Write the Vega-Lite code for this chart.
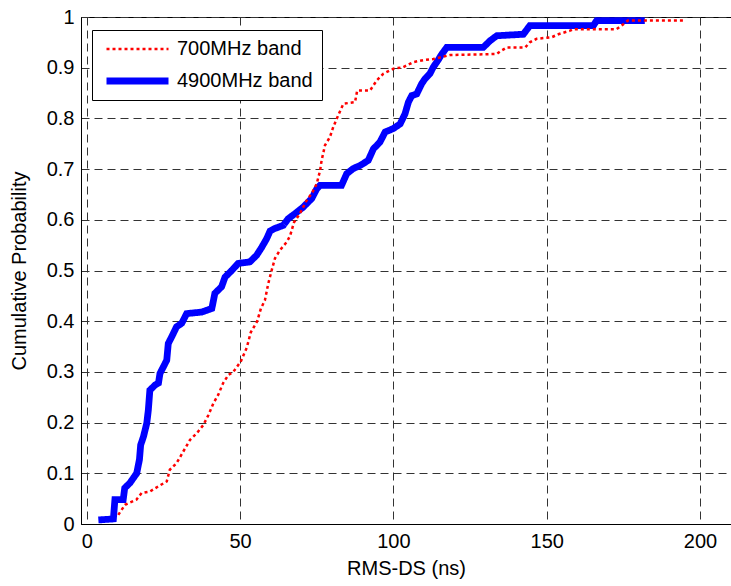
{
  "$schema": "https://vega.github.io/schema/vega-lite/v6.json",
  "width": 650,
  "height": 507,
  "autosize": "none",
  "padding": {"left": 81, "top": 17, "right": 0, "bottom": 62},
  "background": "white",
  "config": {
    "font": "Liberation Sans",
    "view": {"stroke": "black", "strokeWidth": 1},
    "axis": {
      "labelFont": "Liberation Sans",
      "titleFont": "Liberation Sans",
      "labelFontSize": 20,
      "titleFontSize": 20,
      "titleFontWeight": "normal",
      "labelColor": "black",
      "titleColor": "black",
      "domainColor": "black",
      "domainWidth": 1,
      "ticks": false,
      "grid": true,
      "gridColor": "#333333",
      "gridDash": [8, 5],
      "gridWidth": 1,
      "gridOpacity": 1
    },
    "legend": {
      "labelFont": "Liberation Sans",
      "labelFontSize": 20,
      "labelColor": "black"
    }
  },
  "data": {
    "values": [
      {"band": "4900MHz band", "x": 3.8, "y": 0.008},
      {"band": "4900MHz band", "x": 8.7, "y": 0.01},
      {"band": "4900MHz band", "x": 9.2, "y": 0.048},
      {"band": "4900MHz band", "x": 11.9, "y": 0.048},
      {"band": "4900MHz band", "x": 12.4, "y": 0.071},
      {"band": "4900MHz band", "x": 14.1, "y": 0.081},
      {"band": "4900MHz band", "x": 16.3, "y": 0.1},
      {"band": "4900MHz band", "x": 17.2, "y": 0.127},
      {"band": "4900MHz band", "x": 17.6, "y": 0.156},
      {"band": "4900MHz band", "x": 18.5, "y": 0.172},
      {"band": "4900MHz band", "x": 19.6, "y": 0.199},
      {"band": "4900MHz band", "x": 20.1, "y": 0.225},
      {"band": "4900MHz band", "x": 20.6, "y": 0.264},
      {"band": "4900MHz band", "x": 22.3, "y": 0.274},
      {"band": "4900MHz band", "x": 23.4, "y": 0.278},
      {"band": "4900MHz band", "x": 23.9, "y": 0.297},
      {"band": "4900MHz band", "x": 25.0, "y": 0.31},
      {"band": "4900MHz band", "x": 26.1, "y": 0.323},
      {"band": "4900MHz band", "x": 26.6, "y": 0.356},
      {"band": "4900MHz band", "x": 27.7, "y": 0.369},
      {"band": "4900MHz band", "x": 29.3, "y": 0.389},
      {"band": "4900MHz band", "x": 31.0, "y": 0.396},
      {"band": "4900MHz band", "x": 32.6, "y": 0.415},
      {"band": "4900MHz band", "x": 37.5, "y": 0.418},
      {"band": "4900MHz band", "x": 40.8, "y": 0.425},
      {"band": "4900MHz band", "x": 41.8, "y": 0.455},
      {"band": "4900MHz band", "x": 44.0, "y": 0.468},
      {"band": "4900MHz band", "x": 45.1, "y": 0.487},
      {"band": "4900MHz band", "x": 47.3, "y": 0.5},
      {"band": "4900MHz band", "x": 49.4, "y": 0.514},
      {"band": "4900MHz band", "x": 53.2, "y": 0.517},
      {"band": "4900MHz band", "x": 55.4, "y": 0.53},
      {"band": "4900MHz band", "x": 57.1, "y": 0.546},
      {"band": "4900MHz band", "x": 58.7, "y": 0.563},
      {"band": "4900MHz band", "x": 59.8, "y": 0.578},
      {"band": "4900MHz band", "x": 61.4, "y": 0.583},
      {"band": "4900MHz band", "x": 64.1, "y": 0.589},
      {"band": "4900MHz band", "x": 65.7, "y": 0.602},
      {"band": "4900MHz band", "x": 67.9, "y": 0.612},
      {"band": "4900MHz band", "x": 70.6, "y": 0.625},
      {"band": "4900MHz band", "x": 73.4, "y": 0.642},
      {"band": "4900MHz band", "x": 75.0, "y": 0.661},
      {"band": "4900MHz band", "x": 76.1, "y": 0.668},
      {"band": "4900MHz band", "x": 83.1, "y": 0.668},
      {"band": "4900MHz band", "x": 84.8, "y": 0.691},
      {"band": "4900MHz band", "x": 86.9, "y": 0.701},
      {"band": "4900MHz band", "x": 89.1, "y": 0.707},
      {"band": "4900MHz band", "x": 91.8, "y": 0.717},
      {"band": "4900MHz band", "x": 93.5, "y": 0.74},
      {"band": "4900MHz band", "x": 95.6, "y": 0.753},
      {"band": "4900MHz band", "x": 97.3, "y": 0.773},
      {"band": "4900MHz band", "x": 100.0, "y": 0.78},
      {"band": "4900MHz band", "x": 102.2, "y": 0.789},
      {"band": "4900MHz band", "x": 103.8, "y": 0.809},
      {"band": "4900MHz band", "x": 104.9, "y": 0.832},
      {"band": "4900MHz band", "x": 106.0, "y": 0.845},
      {"band": "4900MHz band", "x": 107.6, "y": 0.848},
      {"band": "4900MHz band", "x": 109.2, "y": 0.868},
      {"band": "4900MHz band", "x": 110.3, "y": 0.878},
      {"band": "4900MHz band", "x": 111.9, "y": 0.888},
      {"band": "4900MHz band", "x": 113.0, "y": 0.901},
      {"band": "4900MHz band", "x": 114.6, "y": 0.915},
      {"band": "4900MHz band", "x": 115.6, "y": 0.925},
      {"band": "4900MHz band", "x": 117.4, "y": 0.94},
      {"band": "4900MHz band", "x": 129.3, "y": 0.94},
      {"band": "4900MHz band", "x": 131.5, "y": 0.953},
      {"band": "4900MHz band", "x": 133.7, "y": 0.963},
      {"band": "4900MHz band", "x": 142.4, "y": 0.966},
      {"band": "4900MHz band", "x": 144.5, "y": 0.983},
      {"band": "4900MHz band", "x": 165.2, "y": 0.983},
      {"band": "4900MHz band", "x": 166.3, "y": 0.993},
      {"band": "4900MHz band", "x": 182.0, "y": 0.993},
      {"band": "700MHz band", "x": 10.3, "y": 0.018},
      {"band": "700MHz band", "x": 12.5, "y": 0.038},
      {"band": "700MHz band", "x": 16.2, "y": 0.048},
      {"band": "700MHz band", "x": 17.9, "y": 0.061},
      {"band": "700MHz band", "x": 20.6, "y": 0.064},
      {"band": "700MHz band", "x": 23.3, "y": 0.074},
      {"band": "700MHz band", "x": 26.1, "y": 0.084},
      {"band": "700MHz band", "x": 27.1, "y": 0.107},
      {"band": "700MHz band", "x": 29.3, "y": 0.12},
      {"band": "700MHz band", "x": 31.5, "y": 0.143},
      {"band": "700MHz band", "x": 33.7, "y": 0.166},
      {"band": "700MHz band", "x": 35.9, "y": 0.179},
      {"band": "700MHz band", "x": 38.0, "y": 0.195},
      {"band": "700MHz band", "x": 39.7, "y": 0.215},
      {"band": "700MHz band", "x": 41.3, "y": 0.238},
      {"band": "700MHz band", "x": 42.9, "y": 0.255},
      {"band": "700MHz band", "x": 44.5, "y": 0.278},
      {"band": "700MHz band", "x": 46.2, "y": 0.294},
      {"band": "700MHz band", "x": 47.8, "y": 0.3},
      {"band": "700MHz band", "x": 50.2, "y": 0.32},
      {"band": "700MHz band", "x": 52.2, "y": 0.348},
      {"band": "700MHz band", "x": 53.5, "y": 0.378},
      {"band": "700MHz band", "x": 55.6, "y": 0.4},
      {"band": "700MHz band", "x": 56.8, "y": 0.425},
      {"band": "700MHz band", "x": 58.1, "y": 0.441},
      {"band": "700MHz band", "x": 59.2, "y": 0.474},
      {"band": "700MHz band", "x": 60.3, "y": 0.5},
      {"band": "700MHz band", "x": 61.4, "y": 0.524},
      {"band": "700MHz band", "x": 63.0, "y": 0.54},
      {"band": "700MHz band", "x": 65.2, "y": 0.556},
      {"band": "700MHz band", "x": 66.3, "y": 0.568},
      {"band": "700MHz band", "x": 67.6, "y": 0.595},
      {"band": "700MHz band", "x": 69.5, "y": 0.612},
      {"band": "700MHz band", "x": 71.7, "y": 0.638},
      {"band": "700MHz band", "x": 73.4, "y": 0.652},
      {"band": "700MHz band", "x": 75.0, "y": 0.671},
      {"band": "700MHz band", "x": 76.1, "y": 0.697},
      {"band": "700MHz band", "x": 76.6, "y": 0.717},
      {"band": "700MHz band", "x": 77.7, "y": 0.747},
      {"band": "700MHz band", "x": 79.3, "y": 0.763},
      {"band": "700MHz band", "x": 80.4, "y": 0.783},
      {"band": "700MHz band", "x": 82.0, "y": 0.806},
      {"band": "700MHz band", "x": 83.7, "y": 0.829},
      {"band": "700MHz band", "x": 87.5, "y": 0.832},
      {"band": "700MHz band", "x": 88.2, "y": 0.855},
      {"band": "700MHz band", "x": 92.4, "y": 0.855},
      {"band": "700MHz band", "x": 94.6, "y": 0.875},
      {"band": "700MHz band", "x": 96.7, "y": 0.888},
      {"band": "700MHz band", "x": 100.0, "y": 0.898},
      {"band": "700MHz band", "x": 103.2, "y": 0.901},
      {"band": "700MHz band", "x": 106.5, "y": 0.911},
      {"band": "700MHz band", "x": 109.8, "y": 0.915},
      {"band": "700MHz band", "x": 113.0, "y": 0.917},
      {"band": "700MHz band", "x": 118.5, "y": 0.925},
      {"band": "700MHz band", "x": 133.7, "y": 0.927},
      {"band": "700MHz band", "x": 134.8, "y": 0.932},
      {"band": "700MHz band", "x": 137.0, "y": 0.94},
      {"band": "700MHz band", "x": 143.0, "y": 0.94},
      {"band": "700MHz band", "x": 144.5, "y": 0.95},
      {"band": "700MHz band", "x": 146.7, "y": 0.957},
      {"band": "700MHz band", "x": 151.6, "y": 0.96},
      {"band": "700MHz band", "x": 153.8, "y": 0.966},
      {"band": "700MHz band", "x": 157.6, "y": 0.973},
      {"band": "700MHz band", "x": 158.7, "y": 0.976},
      {"band": "700MHz band", "x": 172.8, "y": 0.976},
      {"band": "700MHz band", "x": 174.4, "y": 0.983},
      {"band": "700MHz band", "x": 176.5, "y": 0.993},
      {"band": "700MHz band", "x": 194.5, "y": 0.993}
    ]
  },
  "mark": {"type": "line", "interpolate": "linear", "clip": true},
  "encoding": {
    "x": {
      "field": "x",
      "type": "quantitative",
      "scale": {"domain": [-1.86, 210.1], "nice": false, "zero": false},
      "axis": {
        "title": "RMS-DS (ns)",
        "values": [0, 50, 100, 150, 200],
        "labelPadding": 7,
        "titlePadding": 7
      }
    },
    "y": {
      "field": "y",
      "type": "quantitative",
      "scale": {"domain": [0, 1], "nice": false},
      "axis": {
        "title": "Cumulative Probability",
        "values": [0, 0.1, 0.2, 0.3, 0.4, 0.5, 0.6, 0.7, 0.8, 0.9, 1],
        "format": "~g",
        "labelPadding": 7,
        "titlePadding": 17
      }
    },
    "color": {
      "field": "band",
      "type": "nominal",
      "scale": {"domain": ["700MHz band", "4900MHz band"], "range": ["#ff0000", "#0000ff"]},
      "legend": {
        "title": null,
        "orient": "none",
        "legendX": 11,
        "legendY": 13,
        "padding": 9,
        "strokeColor": "black",
        "fillColor": "white",
        "symbolType": "stroke",
        "symbolSize": 3844,
        "clipHeight": 20,
        "rowPadding": 12,
        "symbolOffset": 2,
        "labelOffset": 5
      }
    },
    "strokeDash": {
      "field": "band",
      "type": "nominal",
      "scale": {"domain": ["700MHz band", "4900MHz band"], "range": [[3, 3], [1, 0]]},
      "legend": {
        "title": null,
        "orient": "none",
        "legendX": 11,
        "legendY": 13,
        "padding": 9,
        "strokeColor": "black",
        "fillColor": "white",
        "symbolType": "stroke",
        "symbolSize": 3844,
        "clipHeight": 20,
        "rowPadding": 12,
        "symbolOffset": 2,
        "labelOffset": 5
      }
    },
    "strokeWidth": {
      "field": "band",
      "type": "nominal",
      "scale": {"domain": ["700MHz band", "4900MHz band"], "range": [2.5, 6.8]},
      "legend": {
        "title": null,
        "orient": "none",
        "legendX": 11,
        "legendY": 13,
        "padding": 9,
        "strokeColor": "black",
        "fillColor": "white",
        "symbolType": "stroke",
        "symbolSize": 3844,
        "clipHeight": 20,
        "rowPadding": 12,
        "symbolOffset": 2,
        "labelOffset": 5
      }
    }
  }
}
